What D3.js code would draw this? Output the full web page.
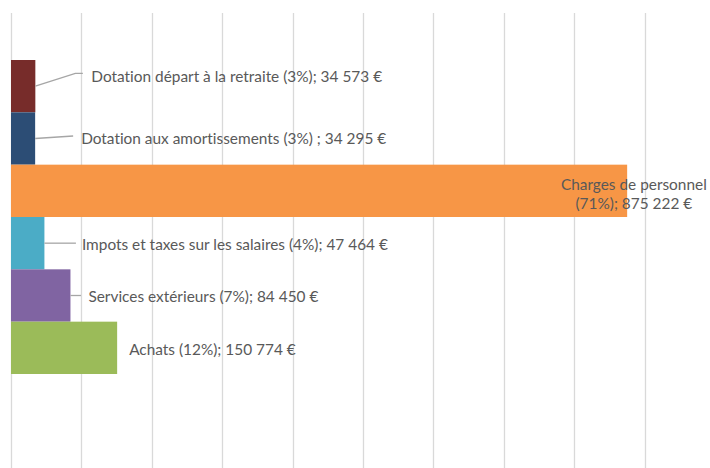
<!DOCTYPE html>
<html>
<head>
<meta charset="utf-8">
<script src="https://cdn.jsdelivr.net/npm/d3@7"></script>
<style>
  body { margin: 0; background: #fff; }
  svg { display: block; }
  text { font-family: Lato, "Liberation Sans", sans-serif; fill: #595959; font-variant-ligatures: none; }
</style>
</head>
<body>
<div id="chart"></div>
<script>
// categories, top to bottom
var categories = ["Dotation départ à la retraite", "Dotation aux amortissements", "Charges de personnel",
                  "Impots et taxes sur les salaires", "Services extérieurs", "Achats"];
var values = [34573, 34295, 875222, 47464, 84450, 150774];
var labels = ["Dotation départ à la retraite (3%); 34 573 €",
              "Dotation aux amortissements (3%) ; 34 295 €",
              "Charges de personnel|(71%); 875 222 €",
              "Impots et taxes sur les salaires (4%); 47 464 €",
              "Services extérieurs (7%); 84 450 €",
              "Achats (12%); 150 774 €"];
var colors = ["#772C2A", "#2C4D75", "#F79646", "#4BACC6", "#8064A2", "#9BBB59"];
var xTicks = d3.range(0, 1000001, 100000);

var width = 710, height = 468;
var fontSize = 15.4;

var svg = d3.select("#chart").append("svg")
    .attr("width", width)
    .attr("height", height);

var x = d3.scaleLinear().domain([0, 1000000]).range([11, 715]);
var y = d3.scaleBand().domain(categories).range([60, 374]).padding(0);

// vertical gridlines
svg.append("g")
    .selectAll("line")
    .data(xTicks)
    .enter().append("line")
    .attr("x1", function(d) { return Math.round(x(d)) + 0.5; })
    .attr("x2", function(d) { return Math.round(x(d)) + 0.5; })
    .attr("y1", 13)
    .attr("y2", height)
    .attr("stroke", "#D9D9D9")
    .attr("stroke-width", 1.3);

// bars
svg.append("g")
    .selectAll("rect")
    .data(categories)
    .enter().append("rect")
    .attr("x", x(0))
    .attr("y", function(d) { return y(d); })
    .attr("width", function(d, i) { return x(values[i]) - x(0); })
    .attr("height", y.bandwidth())
    .attr("fill", function(d, i) { return colors[i]; });

// label layout: offset of label start from bar end, and leader line bends
var labelDx = [56, 46, 0, 37.5, 18, 12];
var labelDy = [-10, -1, 0, 1, 0, 1];
var leaders = [
    [[0, 0], [40, -12.7], [47.5, -12.7]],
    [[0, 0], [38, -2.5]],
    null,
    [[0, 0], [31.5, 0]],
    [[0, 0], [10.5, 0]],
    null
];

var lineGen = d3.line();

categories.forEach(function(c, i) {
    var xe = x(values[i]);
    var yc = y(c) + y.bandwidth() / 2;

    if (leaders[i]) {
        svg.append("path")
            .attr("d", lineGen(leaders[i].map(function(p) { return [xe + p[0], yc + p[1]]; })))
            .attr("fill", "none")
            .attr("stroke", "#A6A6A6")
            .attr("stroke-width", 1.3);
    }

    var parts = labels[i].split("|");
    if (parts.length > 1) {
        // inside label, two centered lines
        var t = svg.append("text")
            .attr("text-anchor", "middle")
            .attr("font-size", fontSize);
        parts.forEach(function(p, k) {
            t.append("tspan")
                .attr("x", xe + 6.7)
                .attr("y", yc - 0.5 + k * 18.8)
                .text(p);
        });
    } else {
        svg.append("text")
            .attr("x", xe + labelDx[i])
            .attr("y", yc + labelDy[i] + 6)
            .attr("font-size", fontSize)
            .text(labels[i]);
    }
});
</script>
</body>
</html>
